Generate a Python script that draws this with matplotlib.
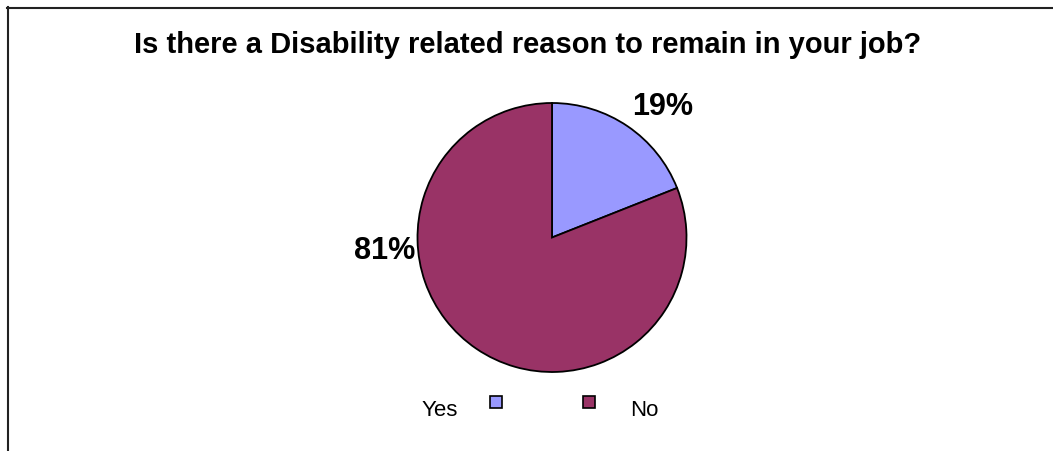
"""
Pie chart: disability related reason to remain in job
"""
import matplotlib.pyplot as plt
from matplotlib.lines import Line2D
from matplotlib.patches import Rectangle

categories = ["Yes", "No"]
shares = [19, 81]
colors = ["#9999FF", "#993366"]

W, H = 1053, 452

plt.rcParams["font.family"] = ["Liberation Sans", "DejaVu Sans"]

fig = plt.figure(figsize=(W / 100, H / 100), dpi=100)
ax = fig.add_axes([0, 0, 1, 1])

# pie centre / radius in pixel units (y measured from the top)
cx, cy, r = 552, 238.5, 134.5
wedges, _ = ax.pie(shares, colors=colors, startangle=90, counterclock=False,
                   center=(cx, H - cy), radius=r,
                   wedgeprops=dict(edgecolor="black", linewidth=1.3))
ax.set_xlim(0, W)
ax.set_ylim(0, H)
ax.set_aspect("auto")
ax.axis("off")

# percentage labels
label_xy = [(663, 107), (385, 251)]
for val, (lx, ly) in zip(shares, label_xy):
    ax.text(lx, H - ly, f"{val}%", ha="center", va="center",
            fontsize=22, fontweight="bold")

ax.text(134, H - 53, "Is there a Disability related reason to remain in your job?",
        ha="left", va="baseline", fontsize=21, fontweight="bold")

# legend, drawn by hand
marker_x = [496, 589]
text_x = [440, 644]
for cat, col, mx, tx in zip(categories, colors, marker_x, text_x):
    ax.add_patch(Rectangle((mx - 6, H - 409), 12, 12, facecolor=col,
                           edgecolor="black", linewidth=1.2))
    ax.text(tx, H - 411, cat, ha="center", va="center", fontsize=16)

# chart area border (top and left edges only)
fig.add_artist(Line2D([7 / W, 1], [1 - 8.5 / H, 1 - 8.5 / H],
                      color="#222222", linewidth=1.5))
fig.add_artist(Line2D([7.5 / W, 7.5 / W], [0, 1 - 8 / H],
                      color="#222222", linewidth=1.5))

fig.savefig("out.png", dpi=100)
plt.close(fig)
